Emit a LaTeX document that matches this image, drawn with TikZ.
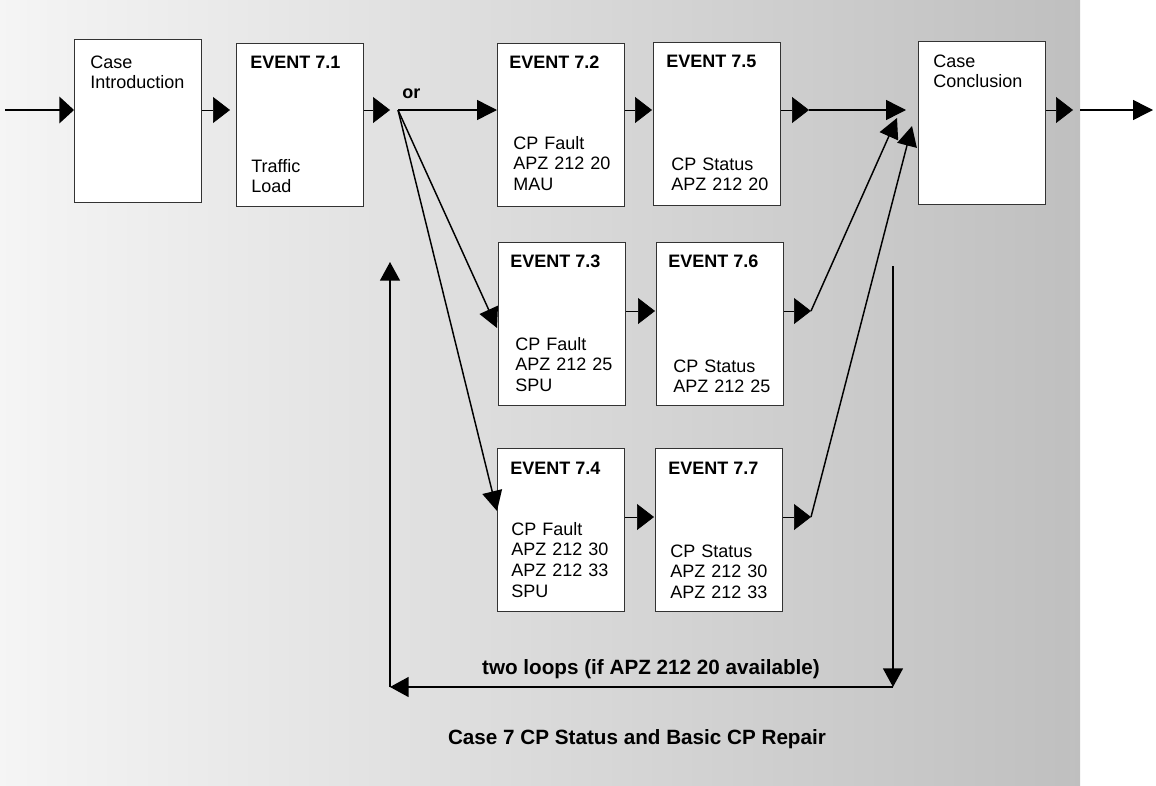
\documentclass[tikz,border=0pt]{standalone}
\usepackage{fontspec}
\setmainfont{Liberation Sans}
\usetikzlibrary{arrows.meta,calc}
\tikzset{
  box/.style={draw=black!80, fill=white, line width=0.6pt, minimum width=95.25pt, minimum height=122.25pt, inner sep=0pt, anchor=north west},
  ttl/.style={anchor=base west, inner sep=0pt, font=\bfseries\fontsize{13.5}{15.5}\selectfont},
  txt/.style={anchor=base west, inner sep=0pt, text width=100pt, align=left, font=\fontsize{13.5}{15.5}\selectfont},
  stub/.style={line width=0.5pt, -{Triangle[length=12.75pt,width=19.5pt]}},
  entry/.style={line width=1.1pt, -{Triangle[length=11pt,width=20pt]}},
  long/.style={line width=1.1pt, -{Triangle[length=15pt,width=15pt]}},
  loopa/.style={line width=1.1pt, -{Triangle[length=14pt,width=15pt]}},
  bigtxt/.style={inner sep=0pt, anchor=base, font=\bfseries\fontsize{15.5}{18}\selectfont}
}
\begin{document}
\begin{tikzpicture}[x=0.75pt,y=-0.75pt]
\useasboundingbox (0,0) rectangle (1156,785);
\shade[left color=white!96!black, right color=black!25] (0,0) rectangle (1080,785);

% boxes
\node[box] (ci)  at (74,39)  {};
\node[box] (e71) at (236,43) {};
\node[box] (e72) at (497,43) {};
\node[box] (e75) at (653,42) {};
\node[box] (cc)  at (918,41) {};
\node[box] (e73) at (498,242) {};
\node[box] (e76) at (656,242) {};
\node[box] (e74) at (497,448) {};
\node[box] (e77) at (655,448) {};

% texts
\node[txt] (cit) at (90,68) {Case\\Introduction};
\node[ttl] (e71h) at (250,68) {EVENT 7.1};
\node[txt] (e71t) at (251,172) {Traffic\\Load};
\node[ttl] (e72h) at (509,68) {EVENT 7.2};
\node[txt] (e72t) at (513,149) {CP Fault\\APZ 212 20\\MAU};
\node[ttl] (e75h) at (666,67) {EVENT 7.5};
\node[txt] (e75t) at (671,170) {CP Status\\APZ 212 20};
\node[txt] (cct) at (933,67) {Case\\Conclusion};
\node[ttl] (e73h) at (510,267) {EVENT 7.3};
\node[txt] (e73t) at (515,350) {CP Fault\\APZ 212 25\\SPU};
\node[ttl] (e76h) at (668,267) {EVENT 7.6};
\node[txt] (e76t) at (673,372) {CP Status\\APZ 212 25};
\node[ttl] (e74h) at (510,474) {EVENT 7.4};
\node[txt] (e74t) at (511,535) {CP Fault\\APZ 212 30\\APZ 212 33\\SPU};
\node[ttl] (e77h) at (668,474) {EVENT 7.7};
\node[txt] (e77t) at (670,557) {CP Status\\APZ 212 30\\APZ 212 33};

\node[ttl] (or) at (402,98) {or};
\node[bigtxt] (loopl) at (651,674) {two loops (if APZ 212 20 available)};
\node[bigtxt] (capt) at (637,744) {Case 7 CP Status and Basic CP Repair};

% coordinates
\coordinate (in) at (5,110);
\coordinate (br) at (398,110);
\coordinate (j5) at (809,110);
\coordinate (j6) at (811,311);
\coordinate (j7) at (811,517);
\coordinate (h1) at (897,118);
\coordinate (h2) at (912,126);
\coordinate (xo) at (1080,110);
\coordinate (ex) at (1153,110);
\coordinate (l1) at (893,266);
\coordinate (l2) at (893,687);
\coordinate (l3) at (390,687);
\coordinate (l4) at (390,262);

% top row
\draw[entry] (in) -- (ci.west |- br);
\draw[stub, shorten >=4.5pt] (ci.east |- br) -- (e71.west |- br);
\draw[stub, shorten >=6pt] (e71.east |- br) -- (br);
\draw[long] (br) -- (e72.west |- br);
\draw[long] (br) -- ($(e73.north west)+(-1,86)$);
\draw[long] (br) -- ($(e74.north west)+(0,63)$);
\draw[stub, shorten >=0.75pt] (e72.east |- br) -- (e75.west |- br);
\draw[stub] (e75.east |- br) -- (j5);
\draw[long, shorten >=9pt] (j5) -- (cc.west |- br);
\draw[stub, shorten >=5.25pt] (cc.east |- br) -- (xo);
\draw[long] (xo) -- (ex);

% middle row
\draw[stub, shorten >=0.75pt] (e73.east |- j6) -- (e76.west |- j6);
\draw[stub] (e76.east |- j6) -- (j6);
\draw[long] (j6) -- (h1);

% bottom row
\draw[stub, shorten >=0.75pt] (e74.east |- j7) -- (e77.west |- j7);
\draw[stub] (e77.east |- j7) -- (j7);
\draw[long] (j7) -- (h2);

% loop
\draw[loopa] (l1) -- (l2);
\draw[loopa] (l2) -- (l3);
\draw[loopa] (l3) -- (l4);
\end{tikzpicture}
\end{document}
